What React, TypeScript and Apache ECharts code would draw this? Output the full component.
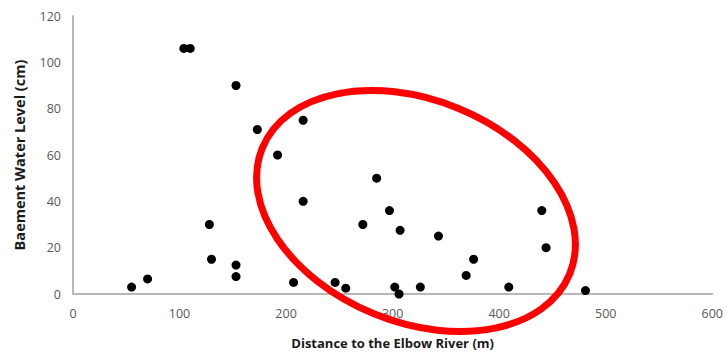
import React, { useEffect, useRef } from "react";
import * as echarts from "echarts";

const distances = [55, 70, 104, 110, 128, 130, 153, 153, 153, 173, 192, 207, 216, 216, 246, 256, 272, 285, 297, 302, 306, 307, 326, 343, 369, 376, 409, 440, 444, 481];
const waterLevels = [3, 6.5, 106, 106, 30, 15, 90, 12.5, 7.5, 71, 60, 5, 75, 40, 5, 2.5, 30, 50, 36, 3, 0, 27.5, 3, 25, 8, 15, 3, 36, 20, 1.5];
const xTicks = [0, 100, 200, 300, 400, 500, 600];
const yTicks = [0, 20, 40, 60, 80, 100, 120];
const xTitle = "Distance to the Elbow River (m)";
const yTitle = "Baement Water Level (cm)";

export default function App() {
  const ref = useRef<HTMLDivElement>(null);
  useEffect(() => {
    const chart = echarts.init(ref.current!, null, { renderer: "svg" });
    const font = "'Open Sans', 'Liberation Sans', sans-serif";
    chart.setOption({
      animation: false,
      backgroundColor: "#ffffff",
      grid: { left: 73, right: 11, top: 16, bottom: 64 },
      xAxis: {
        type: "value",
        min: xTicks[0],
        max: xTicks[xTicks.length - 1],
        interval: 100,
        name: xTitle,
        nameLocation: "middle",
        nameGap: 42,
        nameTextStyle: { fontFamily: font, fontWeight: "bold", fontSize: 13, color: "#1a1a1a" },
        axisLine: { show: true, lineStyle: { color: "#b8b8b8", width: 2 } },
        axisTick: { show: false },
        splitLine: { show: false },
        axisLabel: { fontFamily: font, fontSize: 12.5, color: "#595959", margin: 13 },
      },
      yAxis: {
        type: "value",
        min: yTicks[0],
        max: yTicks[yTicks.length - 1],
        interval: 20,
        name: yTitle,
        nameLocation: "middle",
        nameGap: 46,
        nameTextStyle: { fontFamily: font, fontWeight: "bold", fontSize: 14.5, color: "#1a1a1a" },
        axisLine: { show: true, lineStyle: { color: "#b8b8b8", width: 2 } },
        axisTick: { show: false },
        splitLine: { show: false },
        axisLabel: { fontFamily: font, fontSize: 12.5, color: "#595959", margin: 12 },
      },
      series: [
        {
          type: "scatter",
          symbol: "circle",
          symbolSize: 9,
          itemStyle: { color: "#000000", opacity: 1 },
          data: distances.map((d, i) => [d, waterLevels[i]]),
        },
      ],
      graphic: [
        {
          type: "ellipse",
          x: 416,
          y: 211,
          rotation: (-22.25 * Math.PI) / 180,
          shape: { cx: 0, cy: 0, rx: 166, ry: 111 },
          style: { fill: "none", stroke: "#ff0000", lineWidth: 7 },
          z: 100,
        },
      ],
    });
    return () => chart.dispose();
  }, []);
  return (
    <div
      ref={ref}
      style={{ position: "fixed", left: 0, top: 0, width: 726, height: 358 }}
    />
  );
}
